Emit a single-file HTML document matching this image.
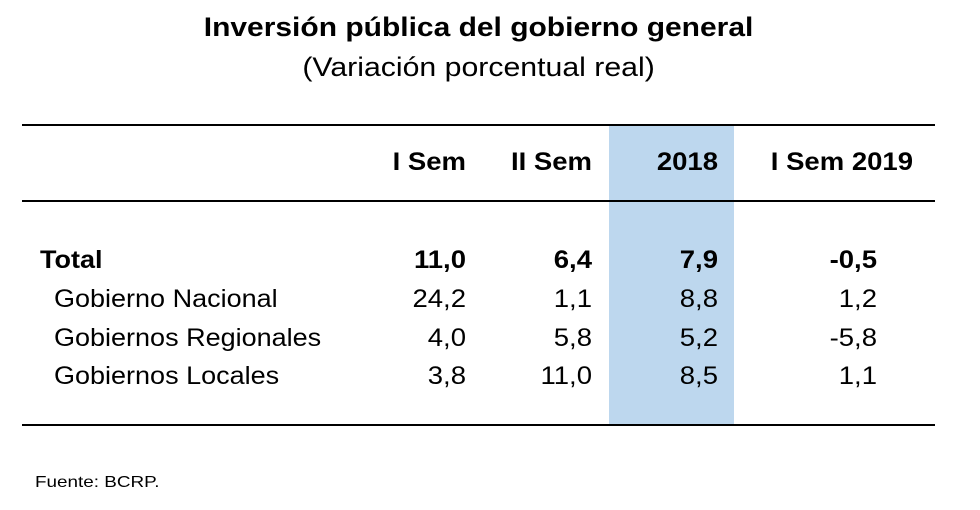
<!DOCTYPE html>
<html><head><meta charset="utf-8">
<style>
body{margin:0;background:#fff;}
#c{position:relative;width:980px;height:510px;overflow:hidden;font-family:"Liberation Sans",Arial,sans-serif;color:#000;}
.t{position:absolute;line-height:1;white-space:nowrap;}
.r{text-align:right;transform:scaleX(1.1);transform-origin:right center;}
.l{transform:scaleX(1.08);transform-origin:left center;}
.b{font-weight:bold;}
.rule{position:absolute;left:22px;width:913px;height:2px;background:#000;}
</style></head><body>
<div id="c">
<div style="position:absolute;left:609px;top:125px;width:125px;height:300px;background:#bdd7ee;"></div>
<div class="t b" style="left:0;width:957px;text-align:center;top:14px;font-size:27px;transform:scaleX(1.11);transform-origin:478px center;">Inversión pública del gobierno general</div>
<div class="t" style="left:0;width:957px;text-align:center;top:54px;font-size:27px;transform:scaleX(1.12);transform-origin:478px center;">(Variación porcentual real)</div>
<div class="rule" style="top:124px;"></div>
<div class="rule" style="top:200px;"></div>
<div class="rule" style="top:424px;"></div>
<div class="t" style="left:35px;top:475px;font-size:16px;transform:scaleX(1.18);transform-origin:left center;">Fuente: BCRP.</div>
</div>
<script>
const headers=["I Sem","II Sem","2018","I Sem 2019"];
const rowLabels=["Total","Gobierno Nacional","Gobiernos Regionales","Gobiernos Locales"];
const colISem=["11,0","24,2","4,0","3,8"];
const colIISem=["6,4","1,1","5,8","11,0"];
const col2018=["7,9","8,8","5,2","8,5"];
const colISem2019=["-0,5","1,2","-5,8","1,1"];
const cols=[colISem,colIISem,col2018,colISem2019];
const headRight=[466,592,718,913];
const valRight=[466,592,718,877];
const rowCenter=[260,299,338,376];
const c=document.getElementById('c');
function mk(txt,cls,style){const d=document.createElement('div');d.className='t '+cls;d.textContent=txt;d.setAttribute('style',style);c.appendChild(d);return d;}
headers.forEach((h,i)=>{
  const d=mk(h,'b r','left:'+(headRight[i]-200)+'px;width:200px;top:150px;font-size:25px;');
  
  
});
rowLabels.forEach((l,r)=>{
  const bold=r===0?'b':'';
  const d=mk(l,bold+' l','left:'+(r===0?40:54)+'px;top:'+(rowCenter[r]-12)+'px;font-size:25px;');
  
  
  cols.forEach((col,i)=>{
    const v=mk(col[r],bold+' r','left:'+(valRight[i]-150)+'px;width:150px;top:'+(rowCenter[r]-12)+'px;font-size:25px;');
    
    
  });
});
</script>
</body></html>
